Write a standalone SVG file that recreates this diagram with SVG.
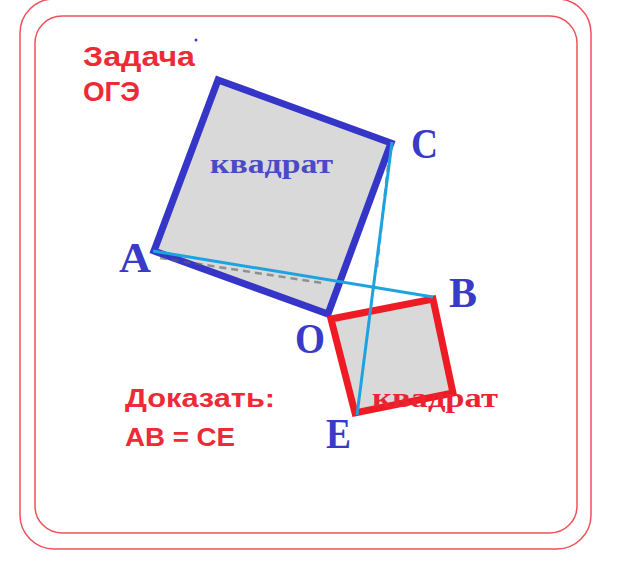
<svg xmlns="http://www.w3.org/2000/svg" width="624" height="569" viewBox="0 0 624 569">
<style>
.frame{fill:none;stroke:#f0505c;stroke-width:1.5}
.sq{fill:#d8d9d8;stroke-linejoin:miter}
.blue{stroke:#3535c8;stroke-width:7}
.red{stroke:#ee1b24;stroke-width:7}
.cyan{stroke:#1fa3e0;stroke-width:3;fill:none}
.dash{stroke:#5a5f60;stroke-width:2.5;stroke-dasharray:7 5;opacity:0.6;fill:none}
.lbl{font-family:"Liberation Serif",serif;font-weight:bold;font-size:42px;fill:#3a3ac8}
.word{font-family:"Liberation Serif",serif;font-weight:bold;font-size:27px}
.rt{font-family:"Liberation Sans",sans-serif;font-weight:bold;fill:#ee2a36}
</style>
<rect width="624" height="569" fill="#ffffff"/>
<g id="frames">
<rect class="frame" x="20" y="-1" width="571" height="550" rx="34"/>
<rect class="frame" x="35" y="16" width="542" height="517" rx="27" stroke="#f38a92"/>
</g>
<g id="title">
<text class="rt" x="83" y="66" font-size="28" textLength="112" lengthAdjust="spacingAndGlyphs">Задача</text>
<text class="rt" x="83" y="101" font-size="28" textLength="57" lengthAdjust="spacingAndGlyphs">ОГЭ</text>
<circle cx="196" cy="40" r="1.5" fill="#3a3ac8"/>
</g>
<g id="square-blue">
<polygon class="sq blue" points="218,80 391,143 328,314 154,251"/>
<text class="word" x="210" y="173" fill="#4a4ac8" textLength="123" lengthAdjust="spacingAndGlyphs">квадрат</text>
</g>
<g id="square-red">
<polygon class="sq red" points="331,319 433,299 453,393 355,413"/>
</g>
<g id="connectors">
<line class="dash" x1="160" y1="258" x2="322" y2="283"/>
<line class="dash" x1="388" y1="165" x2="377" y2="268"/>
<line class="cyan" x1="153" y1="251" x2="433" y2="297"/>
<line class="cyan" x1="392" y1="142" x2="357" y2="415"/>
</g>
<g id="red-word">
<text class="word" x="372" y="407" fill="#ee2233" textLength="126" lengthAdjust="spacingAndGlyphs">квадрат</text>
</g>
<g id="labels">
<text class="lbl" x="119" y="272" textLength="32" lengthAdjust="spacingAndGlyphs">A</text>
<text class="lbl" x="411" y="158" textLength="27" lengthAdjust="spacingAndGlyphs">C</text>
<text class="lbl" x="449" y="307" textLength="28" lengthAdjust="spacingAndGlyphs">B</text>
<text class="lbl" x="295" y="353" textLength="30" lengthAdjust="spacingAndGlyphs">O</text>
<text class="lbl" x="326" y="448" textLength="25" lengthAdjust="spacingAndGlyphs">E</text>
</g>
<g id="prove">
<text class="rt" x="125" y="407" font-size="25" textLength="150" lengthAdjust="spacingAndGlyphs">Доказать:</text>
<text class="rt" x="125" y="446" font-size="25" textLength="110" lengthAdjust="spacingAndGlyphs">АВ = СЕ</text>
</g>
</svg>
